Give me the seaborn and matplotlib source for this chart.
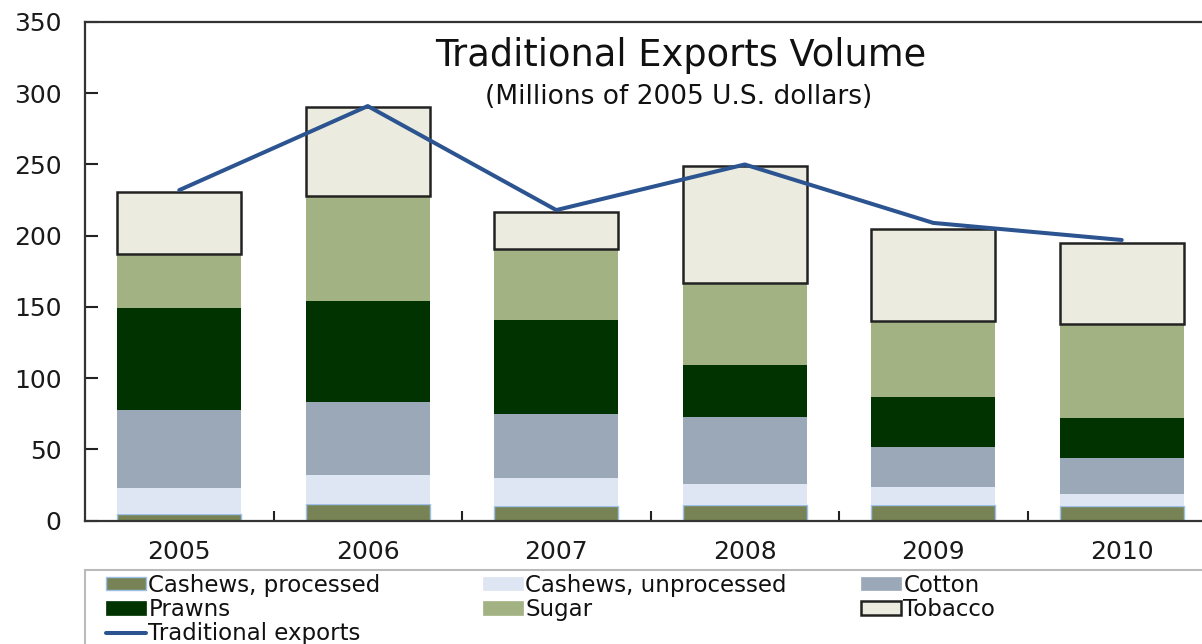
import numpy as np
import pandas as pd
import matplotlib
matplotlib.use("Agg")
import matplotlib.pyplot as plt
from matplotlib.patches import Patch, Rectangle
from matplotlib.lines import Line2D
import seaborn as sns

years = ["2005", "2006", "2007", "2008", "2009", "2010"]
cashews_processed = [5, 12, 10, 11, 11, 10]
cashews_unprocessed = [18, 20, 20, 15, 13, 9]
cotton = [55, 51, 45, 47, 28, 25]
prawns = [71, 71, 66, 36, 35, 28]
sugar = [38, 74, 50, 58, 53, 66]
tobacco = [44, 62, 26, 82, 65, 57]
traditional_exports = [232, 291, 218, 250, 209, 197]

series_names = ["Cashews, processed", "Cashews, unprocessed", "Cotton",
                "Prawns", "Sugar", "Tobacco"]
series_values = [cashews_processed, cashews_unprocessed, cotton,
                 prawns, sugar, tobacco]
colors = ["#778355", "#dfe6f3", "#9ba8b8", "#003300", "#a3b283", "#ecebdf"]
edges = ["#9cc0e8", "none", "none", "none", "none", "#222222"]
lws = [1.0, 0, 0, 0, 0, 1.8]
line_color = "#2c5490"

sns.set_theme(style="white")
plt.rcParams["font.family"] = ["DejaVu Sans"]

W, H = 1202, 644
fig = plt.figure(figsize=(W / 100, H / 100), dpi=100)
ax = fig.add_axes([85 / W, 1 - 520.7 / H, (1216 - 85) / W, (520.7 - 22) / H])

df = pd.DataFrame({"year": years})
bottom = np.zeros(len(years))
for name, vals, c, ec, lw in zip(series_names, series_values, colors, edges, lws):
    sns.barplot(x=df["year"], y=vals, bottom=bottom, color=c, saturation=1,
                width=0.66, edgecolor=ec, linewidth=lw, errorbar=None, ax=ax,
                zorder=2)
    bottom = bottom + np.array(vals)

sns.lineplot(x=np.arange(len(years)), y=traditional_exports, color=line_color,
             linewidth=2.9, ax=ax, zorder=3)

ax.set_xlim(-0.5, len(years) - 0.5)
ax.set_ylim(0, 350)
ax.set_yticks(np.arange(0, 351, 50))
ax.set_xlabel("")
ax.set_ylabel("")
ax.set_xticks(np.arange(len(years)))
ax.set_xticklabels(years)
ax.set_xticks(np.arange(len(years) - 1) + 0.5, minor=True)
ax.tick_params(axis="x", which="major", length=0, pad=14, labelsize=18,
               labelcolor="#1a1a1a")
ax.tick_params(axis="x", which="minor", length=7, width=1.5, direction="in",
               color="#222222", bottom=True)
ax.tick_params(axis="y", length=9, width=1.5, direction="in", color="#222222",
               pad=17, labelsize=18, labelcolor="#1a1a1a", left=True)
for s in ["left", "bottom", "top"]:
    ax.spines[s].set_color("#333333")
    ax.spines[s].set_linewidth(1.6)
ax.spines["right"].set_visible(False)
ax.grid(False)

fig.text(681 / W, 1 - 55 / H, "Traditional Exports Volume",
         ha="center", va="center", fontsize=26.5, color="#111111")
fig.text(679 / W, 1 - 97 / H, "(Millions of 2005 U.S. dollars)",
         ha="center", va="center", fontsize=19, color="#111111")

# legend frame (extends past the figure edge, as in the reference)
fig.patches.append(Rectangle((85 / W, 1 - 680 / H), (1230 - 85) / W, (680 - 570) / H,
                             transform=fig.transFigure, facecolor="white",
                             edgecolor="#bbbbbb", linewidth=1.5, zorder=0))

h = {name: Patch(facecolor=c, edgecolor=(ec if ec != "none" else c),
                 linewidth=max(lw, 0.5))
     for name, c, ec, lw in zip(series_names, colors, edges, lws)}
line_h = Line2D([0], [0], color=line_color, linewidth=2.9)
columns = [
    ([h["Cashews, processed"], h["Prawns"], line_h],
     ["Cashews, processed", "Prawns", "Traditional exports"], 106),
    ([h["Cashews, unprocessed"], h["Sugar"]],
     ["Cashews, unprocessed", "Sugar"], 483),
    ([h["Cotton"], h["Tobacco"]], ["Cotton", "Tobacco"], 861),
]
for hs, ls, x0 in columns:
    leg = fig.legend(hs, ls, loc="upper left",
                     bbox_to_anchor=(x0 / W, 1 - 574 / H), borderaxespad=0,
                     fontsize=16.5, frameon=False, handlelength=1.75,
                     handleheight=0.5, handletextpad=0.1,
                     labelspacing=0.05, borderpad=0)
    for t in leg.get_texts():
        t.set_color("#111111")

fig.savefig("out.png", dpi=100)
